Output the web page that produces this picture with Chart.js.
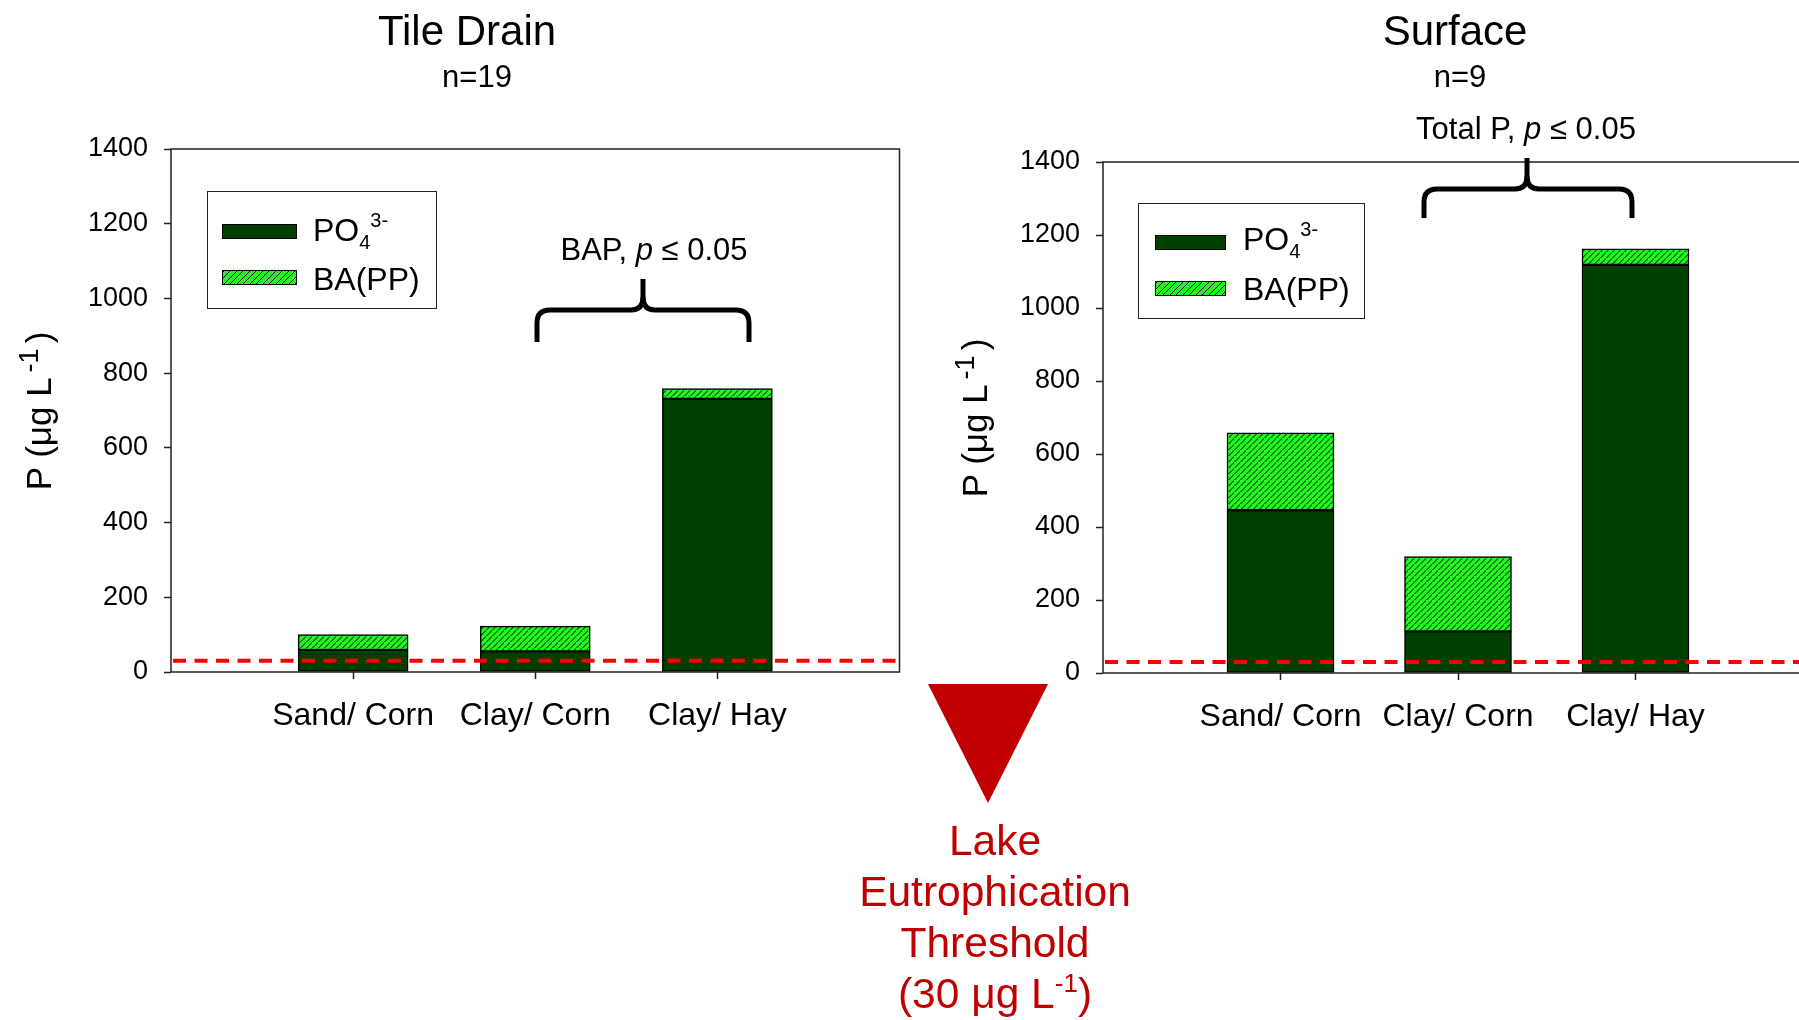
<!DOCTYPE html>
<html>
<head>
<meta charset="utf-8">
<script src="https://cdn.jsdelivr.net/npm/chart.js@4.4.1/dist/chart.umd.min.js"></script>
<style>
  html, body { margin: 0; padding: 0; background: #fff; overflow: hidden; width: 1799px; height: 1020px; }
  body { position: relative; font-family: "Liberation Sans", Arial, sans-serif; color: #000; }
  .panel { position: absolute; top: 0; height: 760px; }
  .panel canvas { display: block; }
  .txt { position: absolute; white-space: nowrap; line-height: 1; transform: translate(-50%, -50%); z-index: 3; }
  .ytitle { position: absolute; white-space: nowrap; line-height: 1; font-size: 35px; transform: translate(-50%, -50%) rotate(-90deg); z-index: 3; }
  .ytitle .sup { font-size: 27px; position: relative; top: -13px; margin-left: 5px; margin-right: 5px; }
  .legend { position: absolute; box-sizing: border-box; border: 1.5px solid #222; background: #fff; z-index: 3; }
  .legend .sw { position: absolute; box-sizing: border-box; border: 1px solid #000; }
  .legend .po4 { background: #003f00; }
  .legend .bapp { background: repeating-linear-gradient(135deg, #000 0 1px, #22f522 1px 4.6px); }
  .legend .lab { position: absolute; font-size: 32px; line-height: 1; white-space: nowrap; }
  .legend .lo { font-size: 20px; position: relative; top: 8px; }
  .legend .hi { font-size: 20px; position: relative; top: -14px; }
  .lake { position: absolute; left: 995px; top: 815px; transform: translateX(-50%); text-align: center;
          color: #c00000; font-size: 42.5px; line-height: 51px; white-space: nowrap; z-index: 3; }
  .lake .sup { font-size: 26px; position: relative; top: -16px; }
  svg.over { position: absolute; left: 0; top: 0; z-index: 2; pointer-events: none; }
</style>
</head>
<body>

<div class="panel" style="left:0; width:920px;"><canvas id="tileChart" width="920" height="760"></canvas></div>
<div class="panel" style="left:940px; width:893px;"><canvas id="surfaceChart" width="893" height="760"></canvas></div>

<!-- panel titles -->
<div class="txt" style="left:467px; top:31px; font-size:42px;">Tile Drain</div>
<div class="txt" style="left:477px; top:76px; font-size:31px;">n=19</div>
<div class="txt" style="left:1455px; top:31px; font-size:42px;">Surface</div>
<div class="txt" style="left:1460px; top:76px; font-size:31px;">n=9</div>

<!-- y axis titles -->
<div class="ytitle" style="left:38px; top:411px;">P (μg L<span class="sup">-1</span>)</div>
<div class="ytitle" style="left:974px; top:418px;">P (μg L<span class="sup">-1</span>)</div>

<!-- significance notes -->
<div class="txt" style="left:654px; top:249px; font-size:31px;">BAP, <i>p</i> ≤ 0.05</div>
<div class="txt" style="left:1526px; top:128px; font-size:31px;">Total P, <i>p</i> ≤ 0.05</div>

<!-- legends -->
<div class="legend" style="left:207px; top:191px; width:230px; height:118px;">
  <div class="sw po4" style="left:14px; top:32px; width:75px; height:15px;"></div>
  <div class="sw bapp" style="left:14px; top:78px; width:75px; height:15px;"></div>
  <div class="lab" style="left:105px; top:22px;">PO<span class="lo">4</span><span class="hi">3-</span></div>
  <div class="lab" style="left:105px; top:71px;">BA(PP)</div>
</div>
<div class="legend" style="left:1138px; top:203px; width:227px; height:116px;">
  <div class="sw po4" style="left:16px; top:31px; width:71px; height:15px;"></div>
  <div class="sw bapp" style="left:16px; top:77px; width:71px; height:15px;"></div>
  <div class="lab" style="left:104px; top:19px;">PO<span class="lo">4</span><span class="hi">3-</span></div>
  <div class="lab" style="left:104px; top:69px;">BA(PP)</div>
</div>

<!-- braces and threshold marker -->
<svg class="over" width="1799" height="1020" viewBox="0 0 1799 1020">
  <g fill="none" stroke="#000" stroke-width="5" stroke-linejoin="round">
    <path d="M537,342 V323 Q537,310 550,310 H631 Q643,310 643,297 V279"/>
    <path d="M643,297 Q643,310 655,310 H736 Q749,310 749,323 V342"/>
    <path d="M1424,218 V202 Q1424,189 1437,189 H1515 Q1527,189 1527,176 V158"/>
    <path d="M1527,176 Q1527,189 1539,189 H1619 Q1632,189 1632,202 V218"/>
  </g>
  <polygon points="928,684 1048,684 988,803" fill="#c00000"/>
</svg>

<div class="lake">Lake<br>Eutrophication<br>Threshold<br>(30 μg L<span class="sup">-1</span>)</div>

<script>
// Mean phosphorus concentrations (μg L-1) by soil / crop system
const categories  = ['Sand/ Corn', 'Clay/ Corn', 'Clay/ Hay'];
const tilePO4     = [59, 55, 731];     // tile drain, dissolved PO4 3-
const tileBAPP    = [41, 68, 28];      // tile drain, bioavailable particulate P
const surfacePO4  = [446, 114, 1118];  // surface runoff, dissolved PO4 3-
const surfaceBAPP = [212, 205, 44];    // surface runoff, bioavailable particulate P
const yTickValues = [0, 200, 400, 600, 800, 1000, 1200, 1400];
const THRESHOLD   = 30;                // lake eutrophication threshold

Chart.defaults.font.family = '"Liberation Sans", Arial, sans-serif';
Chart.defaults.color = '#000';

function hatchPattern(ctx) {
  const n = 6.5;
  const c = document.createElement('canvas');
  c.width = n; c.height = n;
  const g = c.getContext('2d');
  g.fillStyle = '#22f522';
  g.fillRect(0, 0, n, n);
  g.strokeStyle = '#000';
  g.lineWidth = 1;
  g.beginPath();
  g.moveTo(-1, n + 1); g.lineTo(n + 1, -1);
  g.moveTo(-1, 1); g.lineTo(1, -1);
  g.moveTo(n - 1, n + 1); g.lineTo(n + 1, n - 1);
  g.stroke();
  return ctx.createPattern(c, 'repeat');
}

// Plot frame plus the dashed threshold line, placed through the y scale
const frameAndThreshold = {
  id: 'frameAndThreshold',
  afterDatasetsDraw(chart) {
    const { ctx, chartArea: a, scales: { y } } = chart;
    const yPix = y.getPixelForValue(THRESHOLD);
    ctx.save();
    ctx.strokeStyle = '#ff0000';
    ctx.lineWidth = 4;
    ctx.setLineDash([13, 8.5]);
    ctx.beginPath();
    ctx.moveTo(a.left + 2, yPix);
    ctx.lineTo(a.right, yPix);
    ctx.stroke();
    ctx.setLineDash([]);
    ctx.strokeStyle = '#222';
    ctx.lineWidth = 1.5;
    ctx.strokeRect(a.left, a.top, a.right - a.left, a.bottom - a.top);
    ctx.restore();
  }
};

function makeChart(id, po4, bapp, dims) {
  const canvas = document.getElementById(id);
  const pattern = hatchPattern(canvas.getContext('2d'));
  const labels = ['', ...categories, ''];
  const last = labels.length - 1;
  const barStyle = { borderColor: '#000', borderWidth: 1.5, borderSkipped: false, barThickness: dims.bar };
  return new Chart(canvas, {
    type: 'bar',
    data: {
      labels,
      datasets: [
        { label: 'PO4 3-', data: [null, ...po4, null], backgroundColor: '#003f00', ...barStyle },
        { label: 'BA(PP)', data: [null, ...bapp, null], backgroundColor: pattern, ...barStyle }
      ]
    },
    options: {
      responsive: false,
      animation: false,
      devicePixelRatio: 1,
      layout: { padding: { top: dims.top, right: dims.right, left: 0, bottom: 0 } },
      plugins: { legend: { display: false }, tooltip: { enabled: false } },
      scales: {
        x: {
          stacked: true,
          offset: false,
          border: { display: false },
          grid: {
            offset: false,
            drawOnChartArea: false, drawTicks: true, tickLength: 7, tickWidth: 1.5,
            tickColor: (c) => (c.index === 0 || c.index === last) ? 'rgba(0,0,0,0)' : '#222'
          },
          ticks: { font: { size: 32 }, color: '#000', padding: 18, maxRotation: 0, autoSkip: false },
          afterFit(s) { s.height = dims.xh; }
        },
        y: {
          stacked: true,
          min: yTickValues[0],
          max: yTickValues[yTickValues.length - 1],
          border: { display: false },
          grid: { drawOnChartArea: false, tickLength: 7, tickWidth: 1.5, tickColor: '#222' },
          ticks: { font: { size: 27 }, color: '#000', padding: 16, callback: (v) => String(v) },
          afterBuildTicks(s) { s.ticks = yTickValues.map(v => ({ value: v })); },
          afterFit(s) { s.width = dims.yw; }
        }
      }
    },
    plugins: [frameAndThreshold]
  });
}

makeChart('tileChart', tilePO4, tileBAPP, { top: 149, right: 20.5, yw: 171, xh: 88, bar: 110 });
makeChart('surfaceChart', surfacePO4, surfaceBAPP, { top: 162, right: 20, yw: 163, xh: 87, bar: 107 });
</script>
</body>
</html>
